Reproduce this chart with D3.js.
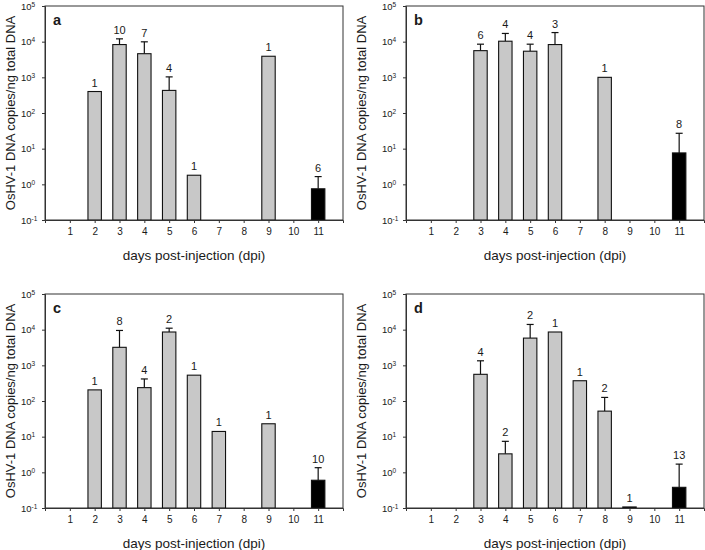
<!DOCTYPE html>
<html>
<head>
<meta charset="utf-8">
<script src="https://cdn.jsdelivr.net/npm/d3@7"></script>
<style>
  body { margin: 0; background: #fff; }
  text { font-family: "Liberation Sans", Arial, sans-serif; fill: #1a1a1a; }
</style>
</head>
<body>
<div id="chart"></div>
<script>
// data (null = no positive sample that day)
let days = [1, 2, 3, 4, 5, 6, 7, 8, 9, 10, 11];
let controlDays = [11];
let yTickExp = [-1, 0, 1, 2, 3, 4, 5];
let panelNames = ["a", "b", "c", "d"];

let meanA = [null, 400, 8300, 4600, 430, 1.8, null, null, 3900, null, 0.75];
let errA  = [null, null, 12000, 9900, 1030, null, null, null, null, null, 1.65];
let nA    = [null, 1, 10, 7, 4, 1, null, null, 1, null, 6];

let meanB = [null, null, 5600, 10300, 5400, 8300, null, 1000, null, null, 7.6];
let errB  = [null, null, 8500, 17000, 8500, 18000, null, null, null, null, 27];
let nB    = [null, null, 6, 4, 4, 3, null, 1, null, null, 8];

let meanC = [null, 205, 3200, 237, 8600, 530, 14, null, 23, null, 0.6];
let errC  = [null, null, 9500, 415, 11000, null, null, null, null, null, 1.35];
let nC    = [null, 1, 8, 4, 2, 1, 1, null, 1, null, 10];

let meanD = [null, null, 560, 3.3, 5800, 8600, 370, 52, 0.107, null, 0.38];
let errD  = [null, null, 1340, 7.4, 14000, null, null, 126, null, null, 1.7];
let nD    = [null, null, 4, 2, 2, 1, 1, 2, 1, null, 13];

let means = [meanA, meanB, meanC, meanD];
let errs = [errA, errB, errC, errD];
let counts = [nA, nB, nC, nD];

// layout
let svgWidth = 705;
let svgHeight = 550;
let panelBoxes = [
  {left: 45,  top: 6,   right: 343, bottom: 220, labelX: 11},
  {left: 406, top: 6,   right: 704, bottom: 220, labelX: 362},
  {left: 45,  top: 294, right: 343, bottom: 508, labelX: 11},
  {left: 406, top: 294, right: 704, bottom: 508, labelX: 362}
];

let svg = d3.select("#chart")
            .append("svg")
            .attr("width", svgWidth)
            .attr("height", svgHeight);

panelBoxes.forEach(function(box, i) {
  let w = box.right - box.left;
  let h = box.bottom - box.top;

  let g = svg.append("g")
             .attr("transform", `translate(${box.left},${box.top})`);

  let xScale = d3.scaleLinear().domain([0, 12]).range([0, w]);
  let yScale = d3.scaleLog().domain([0.1, 1e5]).range([h, 0]);
  let barWidth = (xScale(1) - xScale(0)) * 0.54;

  let rows = days.map(function(d, j) {
    return {day: d, mean: means[i][j], err: errs[i][j], n: counts[i][j]};
  }).filter(d => d.mean !== null);

  // frame
  g.append("rect")
   .attr("width", w)
   .attr("height", h)
   .attr("fill", "none")
   .attr("stroke", "#333")
   .attr("stroke-width", 1);

  // error bars (drawn first so bars cover the stem base)
  let errRows = rows.filter(d => d.err !== null);
  g.append("g").selectAll("line.stem")
   .data(errRows)
   .enter()
     .append("line")
     .attr("x1", d => xScale(d.day))
     .attr("x2", d => xScale(d.day))
     .attr("y1", d => yScale(d.mean))
     .attr("y2", d => yScale(d.err))
     .attr("stroke", "#111")
     .attr("stroke-width", 1.2);

  g.append("g").selectAll("line.cap")
   .data(errRows)
   .enter()
     .append("line")
     .attr("x1", d => xScale(d.day) - 3.5)
     .attr("x2", d => xScale(d.day) + 3.5)
     .attr("y1", d => yScale(d.err))
     .attr("y2", d => yScale(d.err))
     .attr("stroke", "#111")
     .attr("stroke-width", 1.2);

  // bars
  g.append("g").selectAll("rect")
   .data(rows)
   .enter()
     .append("rect")
     .attr("x", d => xScale(d.day) - barWidth / 2)
     .attr("y", d => yScale(d.mean))
     .attr("width", barWidth)
     .attr("height", d => h - yScale(d.mean))
     .attr("fill", d => controlDays.includes(d.day) ? "#000" : "#c8c8c8")
     .attr("stroke", "#111")
     .attr("stroke-width", 1.1);

  // sample size labels
  g.append("g").selectAll("text")
   .data(rows)
   .enter()
     .append("text")
     .attr("x", d => xScale(d.day))
     .attr("y", d => yScale(d.err !== null ? d.err : d.mean) - 5)
     .attr("text-anchor", "middle")
     .attr("font-size", "11px")
     .text(d => d.n);

  // x axis
  let bottomAxis = d3.axisBottom(xScale)
                     .tickValues(days)
                     .tickSize(3)
                     .tickPadding(5)
                     .tickFormat(d3.format("d"));
  let xg = g.append("g")
            .attr("transform", `translate(0,${h})`)
            .call(bottomAxis);
  xg.select(".domain").attr("stroke", "#333");
  xg.selectAll(".tick line").attr("stroke", "#333");
  xg.selectAll(".tick text")
    .attr("font-size", "10px")
    .attr("font-family", null)
    .attr("fill", "#1a1a1a");

  // y axis with superscript labels
  let leftAxis = d3.axisLeft(yScale)
                   .tickValues(yTickExp.map(e => Math.pow(10, e)))
                   .tickSize(3)
                   .tickFormat("");
  let yg = g.append("g").call(leftAxis);
  yg.select(".domain").attr("stroke", "#333");
  yg.selectAll(".tick line").attr("stroke", "#333");
  yg.selectAll(".tick").each(function(d) {
    let t = d3.select(this).append("text")
              .attr("x", -24)
              .attr("dy", "0.32em")
              .attr("text-anchor", "start")
              .attr("font-size", "9.5px")
              .attr("fill", "#1a1a1a")
              .text("10");
    t.append("tspan")
     .attr("dy", "-0.45em")
     .attr("font-size", "6.5px")
     .text(Math.round(Math.log10(d)));
  });

  // panel letter
  g.append("text")
   .attr("x", 8)
   .attr("y", 19)
   .attr("font-size", "14.5px")
   .attr("font-weight", "bold")
   .text(panelNames[i]);

  // axis titles
  g.append("text")
   .attr("x", w / 2)
   .attr("y", h + 40)
   .attr("text-anchor", "middle")
   .attr("font-size", "13.5px")
   .text("days post-injection (dpi)");

  svg.append("text")
     .attr("transform", `translate(${box.labelX + 4},${box.top + h / 2}) rotate(-90)`)
     .attr("text-anchor", "middle")
     .attr("font-size", "13px")
     .text("OsHV-1 DNA copies/ng total DNA");
});
</script>
</body>
</html>
